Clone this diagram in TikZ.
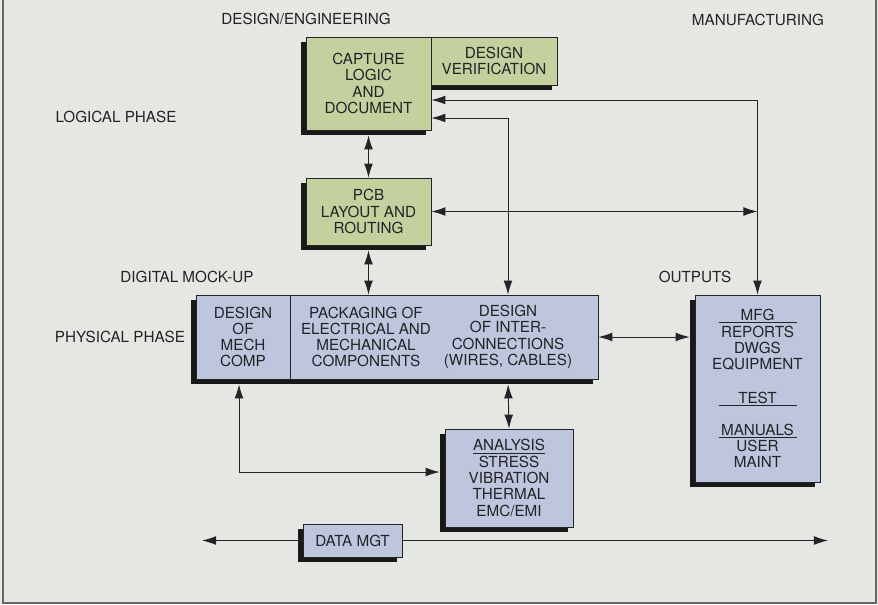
\documentclass[tikz,border=0pt]{standalone}
\usepackage{fontspec}
\setmainfont{TeX Gyre Heros}
\usepackage{tikz}
\usetikzlibrary{arrows.meta, positioning, calc, shadows}
\definecolor{bgpaper}{RGB}{229,231,226}
\definecolor{logicgreen}{RGB}{196,209,158}
\definecolor{physblue}{RGB}{190,198,221}
\definecolor{inkdark}{RGB}{35,35,40}

\begin{document}
\begin{tikzpicture}[
  x=0.03cm, y=-0.03cm,
  every node/.style={font=\fontsize{13}{13.9}\selectfont, align=center, text=inkdark},
  box/.style={draw=inkdark, line width=0.6pt, inner sep=0pt,
              drop shadow={shadow xshift=-0.15cm, shadow yshift=-0.15cm,
                           fill=black!90, opacity=1}},
  greenbox/.style={box, fill=logicgreen},
  bluebox/.style={box, fill=physblue},
  lbl/.style={inner sep=0pt},
  arr/.style={-{Latex[length=12pt, width=7.5pt]}, line width=0.8pt, draw=inkdark},
  dbl/.style={arr, {Latex[length=12pt, width=7.5pt]}-{Latex[length=12pt, width=7.5pt]}},
]
  \fill[bgpaper] (0,0) rectangle (878,604);
  \useasboundingbox (0,0) rectangle (878,604);
  \draw[black!60, line width=1pt] (3,0) -- (3,603) -- (876,603) -- (876,0);

  \node[lbl] (lbleng)  at (306,19)  {DESIGN/ENGINEERING};
  \node[lbl] (lblmfg)  at (758,20)  {MANUFACTURING};
  \node[lbl] (lbllog)  at (116,117) {LOGICAL PHASE};
  \node[lbl] (lblmock) at (187,277) {DIGITAL MOCK-UP};
  \node[lbl] (lblphys) at (120,337) {PHYSICAL PHASE};
  \node[lbl] (lblout)  at (695,277) {OUTPUTS};

  \node[greenbox, minimum width=3.78cm, minimum height=1.44cm] (verif) at (494,61)
    {DESIGN\\VERIFICATION};
  \node[greenbox, minimum width=3.75cm, minimum height=2.79cm] (capture) at (368.5,83.5)
    {CAPTURE\\LOGIC\\AND\\DOCUMENT};
  \node[greenbox, minimum width=3.75cm, minimum height=2.01cm] (pcb) at (368.5,211.5)
    {PCB\\LAYOUT AND\\ROUTING};

  \node[bluebox, minimum width=9.24cm, minimum height=2.52cm] (pkg) at (444,337) {};
  \node[bluebox, minimum width=2.82cm, minimum height=2.52cm] (mech) at (243,337)
    {DESIGN\\OF\\MECH\\COMP};
  \node[lbl] (pkgtxt)  at (366,337) {PACKAGING OF\\ELECTRICAL AND\\MECHANICAL\\COMPONENTS};
  \node[lbl] (wiretxt) at (508,337) {DESIGN\\OF INTER-\\CONNECTIONS\\(WIRES, CABLES)};

  \node[bluebox, minimum width=3.75cm, minimum height=5.61cm] (outputs) at (757.5,388.5)
    {\underline{\makebox[2.34cm]{MFG}}\\REPORTS\\DWGS\\EQUIPMENT\\[15pt]
     \underline{\makebox[2.34cm]{TEST}}\\[13pt]
     \underline{\makebox[2.34cm]{MANUALS}}\\USER\\MAINT};
  \node[bluebox, minimum width=3.84cm, minimum height=2.94cm] (analysis) at (509,478)
    {\underline{ANALYSIS}\\STRESS\\VIBRATION\\THERMAL\\EMC/EMI};
  \node[bluebox, minimum width=2.97cm, minimum height=0.99cm] (data) at (352.5,540.5)
    {DATA MGT};

  \coordinate (dleft)  at (202,540.5);
  \coordinate (dright) at (828,540.5);

  \draw[dbl] ([yshift=-0.495cm]capture.east) -| (outputs.north);
  \draw[dbl] ([yshift=-1.035cm]capture.east) -| (wiretxt.north |- pkg.north);
  \draw[dbl, shorten <=0.15cm] (capture.south) -- (pcb.north);
  \draw[dbl] (pcb.east) -- (pcb.east -| outputs.north);
  \draw[dbl, shorten <=0.15cm] (pcb.south) -- (pcb.south |- pkg.north);
  \draw[dbl, shorten >=0.15cm] (pkg.east) -- (pkg.east -| outputs.west);
  \draw[dbl, shorten <=0.15cm] (wiretxt.north |- pkg.south) -- (analysis.north);
  \draw[dbl, shorten <=0.15cm, shorten >=0.15cm]
    ([xshift=-0.12cm]mech.south) |- ([yshift=0.18cm]analysis.west);
  \draw[arr] (data.west) -- (dleft);
  \draw[arr] (data.east) -- (dright);
\end{tikzpicture}
\end{document}
